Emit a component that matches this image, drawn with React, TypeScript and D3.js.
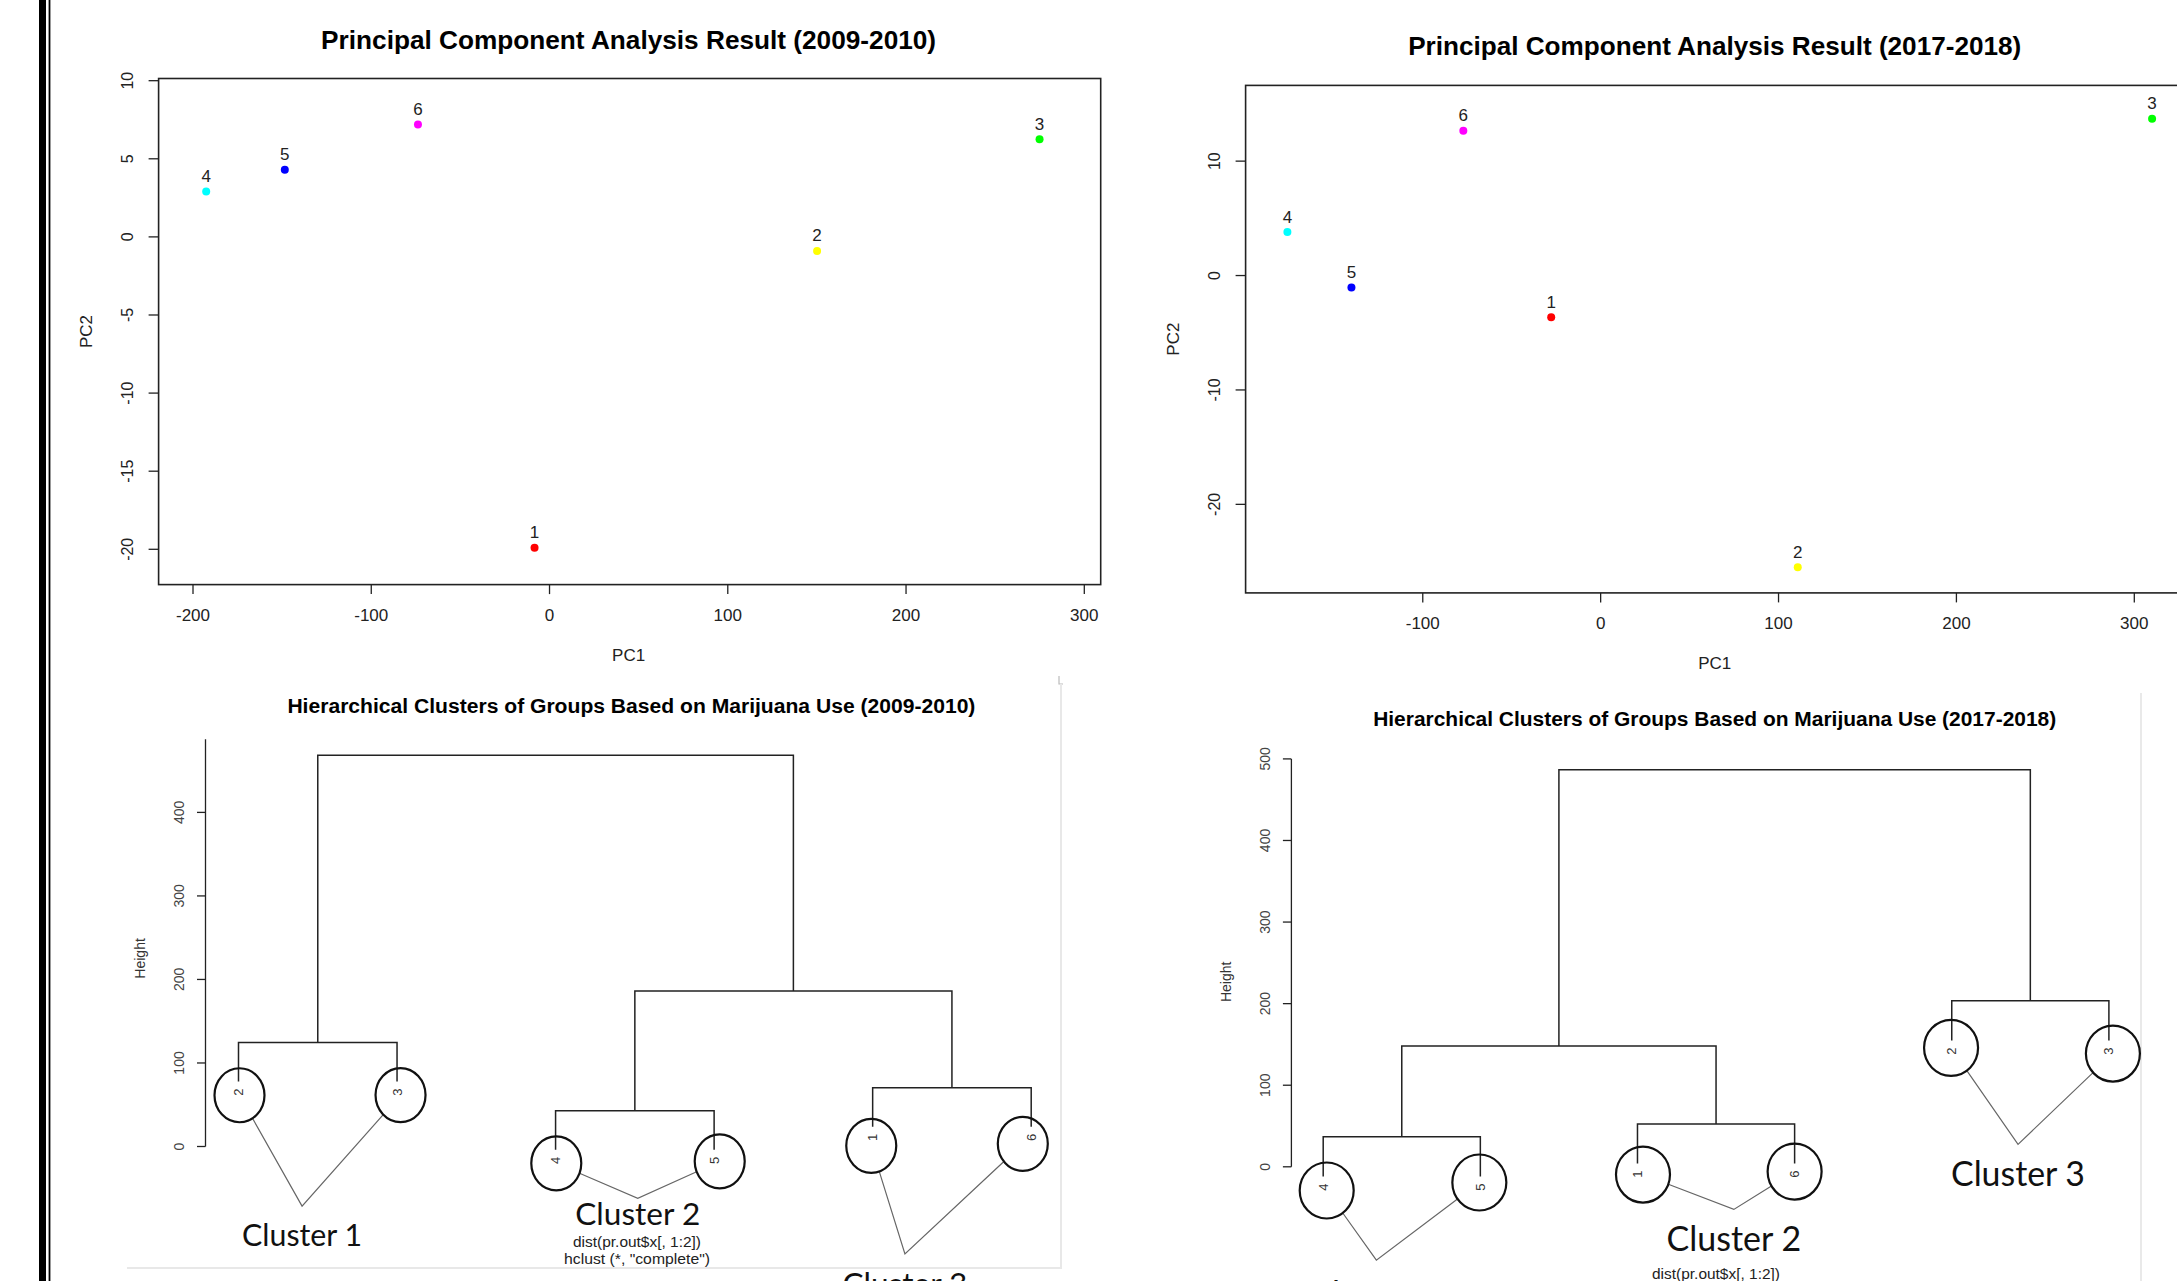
import { useEffect, useRef } from "react";
import * as d3 from "d3";

// group ids and R rainbow(6) colours
const groups = ["1", "2", "3", "4", "5", "6"];
const groupColors = ["#FF0000", "#FFFF00", "#00FF00", "#00FFFF", "#0000FF", "#FF00FF"];

// PCA scores per group, 2009-2010
const pc1_0910 = [-8.4, 150.1, 274.9, -192.6, -148.5, -73.8];
const pc2_0910 = [-19.9, -0.9, 6.25, 2.9, 4.3, 7.2];
const xTicks_0910 = [-200, -100, 0, 100, 200, 300];
const yTicks_0910 = [-20, -15, -10, -5, 0, 5, 10];

// PCA scores per group, 2017-2018
const pc1_1718 = [-27.8, 110.8, 310.0, -176.1, -140.1, -77.2];
const pc2_1718 = [-3.65, -25.5, 13.7, 3.8, -1.05, 12.65];
const xTicks_1718 = [-100, 0, 100, 200, 300];
const yTicks_1718 = [-20, -10, 0, 10];

// hclust results (R merge convention: negative = single group, positive = earlier merge)
const merge_0910 = [[-4, -5], [-1, -6], [-2, -3], [1, 2], [3, 4]];
const height_0910 = [42.9, 70.4, 124.6, 186.2, 468.5];
const order_0910 = ["2", "3", "4", "5", "1", "6"];
const heightTicks_0910 = [0, 100, 200, 300, 400];

const merge_1718 = [[-4, -5], [-1, -6], [1, 2], [-2, -3], [3, 4]];
const height_1718 = [36.8, 52.6, 148.2, 203.4, 486.6];
const order_1718 = ["4", "5", "1", "6", "2", "3"];
const heightTicks_1718 = [0, 100, 200, 300, 400, 500];

const clusterNames = ["Cluster 1", "Cluster 2", "Cluster 3"];
const clusterPairs_0910 = [["2", "3"], ["4", "5"], ["1", "6"]];
const clusterPairs_1718 = [["4", "5"], ["1", "6"], ["2", "3"]];

const SANS = "'Liberation Sans', Arial, sans-serif";
const HAND = "Lato, 'Open Sans', sans-serif";

const pcaPanels = [
  {
    title: "Principal Component Analysis Result (2009-2010)", titleX: 628.6, titleY: 49, titleW: 615,
    pc1: pc1_0910, pc2: pc2_0910, xTicks: xTicks_0910, yTicks: yTicks_0910,
    xDomain: [-219.3, 309.2], yDomain: [-22.26, 10.14],
    left: 158.6, xEnd: 1100.7, boxRight: 1100.7, top: 78.5, bottom: 584.6,
    yLabelX: 86, xLabelX: 628.6, xLabelY: 661,
  },
  {
    title: "Principal Component Analysis Result (2017-2018)", titleX: 1714.7, titleY: 55, titleW: 613,
    pc1: pc1_1718, pc2: pc2_1718, xTicks: xTicks_1718, yTicks: yTicks_1718,
    xDomain: [-199.6, 300], yDomain: [-27.74, 16.62],
    left: 1245.6, xEnd: 2134.3, boxRight: 2220, top: 85.4, bottom: 592.9,
    yLabelX: 1173.5, xLabelX: 1714.7, xLabelY: 668.5,
  },
];

const dendroPanels = [
  {
    title: "Hierarchical Clusters of Groups Based on Marijuana Use (2009-2010)", titleX: 631.4, titleY: 713, titleW: 688,
    merges: merge_0910, heights: height_0910, order: order_0910, ticks: heightTicks_0910, pairs: clusterPairs_0910,
    xFirst: 238.5, xLast: 1031.2, axisX: 205.5, y0: 1146.5, yTop: 812.4, tickTop: 400, axisLineTop: 487.5,
    heightX: 140, heightY: 958.4, subX: 637, subY: 1247, showHclust: true,
    circleDx: [1, 3.5, 0.7, 5.6, -1.4, -8.4], circleDy: [13.7, 13.5, 13.5, 11.5, 19, 17], rx: 25, ry: 27,
    vertexDx: [-15.7, 2.9, -47], vertexDy: [111, 36, 109], labelDy: [29, 15.6, 30], labelSize: 31, labelW: [120, 125, 125],
  },
  {
    title: "Hierarchical Clusters of Groups Based on Marijuana Use (2017-2018)", titleX: 1714.7, titleY: 726, titleW: 683,
    merges: merge_1718, heights: height_1718, order: order_1718, ticks: heightTicks_1718, pairs: clusterPairs_1718,
    xFirst: 1323.2, xLast: 2108.9, axisX: 1291.4, y0: 1166.8, yTop: 758.9, tickTop: 500, axisLineTop: 500,
    heightX: 1225.7, heightY: 981.8, subX: 1716, subY: 1279, showHclust: false,
    circleDx: [3.5, -1, 5.5, 0, -0.7, 4], circleDy: [14, 6, 11, 8, 7.3, 13], rx: 27, ry: 28,
    vertexDx: [-25.4, 17.8, -12.3], vertexDy: [73.7, 36.3, 93.7], labelDy: [34, 29.3, 30], labelSize: 34, labelW: [134, 134.6, 134],
  },
];

function drawPca(root: any, p: any) {
  const g = root.append("g").attr("font-family", SANS);
  const x = d3.scaleLinear().domain(p.xDomain).range([p.left, p.xEnd]);
  const y = d3.scaleLinear().domain(p.yDomain).range([p.bottom, p.top]);

  g.append("rect")
    .attr("x", p.left).attr("y", p.top)
    .attr("width", p.boxRight - p.left).attr("height", p.bottom - p.top)
    .attr("fill", "none").attr("stroke", "#222").attr("stroke-width", 1.6);

  const xt = g.selectAll(".xt").data(p.xTicks).enter().append("g")
    .attr("transform", (d: number) => `translate(${x(d)},${p.bottom})`);
  xt.append("line").attr("y2", 9.5).attr("stroke", "#222").attr("stroke-width", 1.3);
  xt.append("text").attr("y", 36).attr("text-anchor", "middle").attr("font-size", 17).attr("fill", "#222")
    .text((d: number) => String(d));

  const yt = g.selectAll(".yt").data(p.yTicks).enter().append("g")
    .attr("transform", (d: number) => `translate(${p.left},${y(d)})`);
  yt.append("line").attr("x2", -10).attr("stroke", "#222").attr("stroke-width", 1.3);
  yt.append("text").attr("transform", "translate(-31,0) rotate(-90)").attr("dy", "0.35em")
    .attr("text-anchor", "middle").attr("font-size", 16).attr("fill", "#222")
    .text((d: number) => String(d));

  const pts = groups.map((k, i) => ({ k, c: groupColors[i], x: p.pc1[i], y: p.pc2[i] }));
  g.selectAll(".pt").data(pts).enter().append("circle")
    .attr("cx", (d: any) => x(d.x)).attr("cy", (d: any) => y(d.y)).attr("r", 4)
    .attr("fill", (d: any) => d.c);
  g.selectAll(".pl").data(pts).enter().append("text")
    .attr("x", (d: any) => x(d.x)).attr("y", (d: any) => y(d.y) - 9.5)
    .attr("text-anchor", "middle").attr("font-size", 17).attr("fill", "#222")
    .text((d: any) => d.k);

  g.append("text").attr("x", p.titleX).attr("y", p.titleY).attr("text-anchor", "middle")
    .attr("font-size", 26).attr("font-weight", "bold").attr("fill", "#000")
    .attr("textLength", p.titleW).attr("lengthAdjust", "spacingAndGlyphs").text(p.title);
  g.append("text").attr("x", p.xLabelX).attr("y", p.xLabelY)
    .attr("text-anchor", "middle").attr("font-size", 17).attr("fill", "#222").text("PC1");
  g.append("text").attr("transform", `translate(${p.yLabelX},${(p.top + p.bottom) / 2}) rotate(-90)`)
    .attr("dy", "0.35em").attr("text-anchor", "middle").attr("font-size", 17).attr("fill", "#222").text("PC2");
}

function drawDendro(root: any, d: any) {
  const g = root.append("g").attr("font-family", SANS);
  const x = d3.scalePoint<string>().domain(d.order).range([d.xFirst, d.xLast]);
  const y = d3.scaleLinear().domain([0, d.tickTop]).range([d.y0, d.yTop]);
  const hang = 0.1 * (d3.max(d.heights as number[]) as number);

  const nodes: { x: number; h: number }[] = [];
  const leafEnd: Record<string, number> = {};
  (d.merges as number[][]).forEach(([a, b], i) => {
    const h = d.heights[i];
    const pos = (k: number) => {
      if (k < 0) {
        const lab = groups[-k - 1];
        leafEnd[lab] = y(h - hang);
        return { x: x(lab) as number, y: y(h - hang) };
      }
      return { x: nodes[k - 1].x, y: y(nodes[k - 1].h) };
    };
    const pa = pos(a), pb = pos(b);
    g.append("path").attr("d", `M${pa.x},${pa.y}V${y(h)}H${pb.x}V${pb.y}`)
      .attr("fill", "none").attr("stroke", "#222").attr("stroke-width", 1.5);
    nodes.push({ x: (pa.x + pb.x) / 2, h });
  });

  // leaf labels
  g.selectAll(".leaf").data(d.order).enter().append("text")
    .attr("transform", (k: string) => `translate(${x(k)},${leafEnd[k] + 7}) rotate(-90)`)
    .attr("dy", "0.35em").attr("text-anchor", "end").attr("font-size", 13).attr("fill", "#333")
    .text((k: string) => k);

  // height axis
  g.append("line").attr("x1", d.axisX).attr("x2", d.axisX).attr("y1", y(0)).attr("y2", y(d.axisLineTop))
    .attr("stroke", "#222").attr("stroke-width", 1.3);
  const yt = g.selectAll(".yt").data(d.ticks).enter().append("g")
    .attr("transform", (t: number) => `translate(${d.axisX},${y(t)})`);
  yt.append("line").attr("x2", -8.5).attr("stroke", "#222").attr("stroke-width", 1.3);
  yt.append("text").attr("transform", "translate(-26.5,0) rotate(-90)").attr("dy", "0.35em")
    .attr("text-anchor", "middle").attr("font-size", 14).attr("fill", "#444").text((t: number) => String(t));
  g.append("text").attr("transform", `translate(${d.heightX},${d.heightY}) rotate(-90)`)
    .attr("dy", "0.35em").attr("text-anchor", "middle").attr("font-size", 14).attr("fill", "#333").text("Height");

  g.append("text").attr("x", d.titleX).attr("y", d.titleY).attr("text-anchor", "middle")
    .attr("font-size", 20).attr("font-weight", "bold").attr("fill", "#000")
    .attr("textLength", d.titleW).attr("lengthAdjust", "spacingAndGlyphs").text(d.title);
  g.append("text").attr("x", d.subX).attr("y", d.subY).attr("text-anchor", "middle")
    .attr("font-size", 15).attr("fill", "#222").attr("textLength", 128).attr("lengthAdjust", "spacingAndGlyphs")
    .text("dist(pr.out$x[, 1:2])");
  if (d.showHclust) {
    g.append("text").attr("x", d.subX).attr("y", d.subY + 16.5).attr("text-anchor", "middle")
      .attr("font-size", 15).attr("fill", "#222").attr("textLength", 146).attr("lengthAdjust", "spacingAndGlyphs")
      .text("hclust (*, \"complete\")");
  }

  // hand-drawn cluster annotations
  const circle = (k: string) => {
    const i = d.order.indexOf(k);
    return { cx: (x(k) as number) + d.circleDx[i], cy: leafEnd[k] + d.circleDy[i] };
  };
  (d.pairs as string[][]).forEach((pair, c) => {
    const cs = pair.map(circle);
    const vx = ((x(pair[0]) as number) + (x(pair[1]) as number)) / 2 + d.vertexDx[c];
    const vy = (cs[0].cy + cs[1].cy) / 2 + d.vertexDy[c];
    const ends = cs.map(({ cx, cy }) => {
      const dx = vx - cx, dy = vy - cy;
      const t = 1 / Math.sqrt((dx / d.rx) ** 2 + (dy / d.ry) ** 2);
      return [cx + dx * t, cy + dy * t];
    });
    g.append("path").attr("d", `M${ends[0][0]},${ends[0][1]}L${vx},${vy}L${ends[1][0]},${ends[1][1]}`)
      .attr("fill", "none").attr("stroke", "#666").attr("stroke-width", 1.2);
    cs.forEach(({ cx, cy }) => {
      g.append("ellipse").attr("cx", cx).attr("cy", cy).attr("rx", d.rx).attr("ry", d.ry)
        .attr("fill", "none").attr("stroke", "#111").attr("stroke-width", 2.2);
    });
    g.append("text").attr("x", vx).attr("y", vy + d.labelDy[c]).attr("dy", "0.35em")
      .attr("text-anchor", "middle").attr("font-family", HAND).attr("font-size", d.labelSize)
      .attr("fill", "#111").attr("textLength", d.labelW[c]).attr("lengthAdjust", "spacingAndGlyphs")
      .text(clusterNames[c]);
  });
}

export default function App() {
  const ref = useRef<SVGSVGElement>(null);

  useEffect(() => {
    if (!ref.current) return;
    const svg = d3.select(ref.current);
    svg.selectAll("*").remove();

    svg.append("rect").attr("width", 2177).attr("height", 1281).attr("fill", "#fff");

    // faint borders of the pasted dendrogram images
    svg.append("path").attr("d", "M1059,676V684H1063").attr("fill", "none").attr("stroke", "#bbb").attr("stroke-width", 1.2);
    svg.append("path").attr("d", "M1061,684V1268H127").attr("fill", "none").attr("stroke", "#e8e8e8").attr("stroke-width", 2);
    svg.append("line").attr("x1", 2141).attr("x2", 2141).attr("y1", 693).attr("y2", 1281)
      .attr("stroke", "#e2e2e2").attr("stroke-width", 1.5);

    pcaPanels.forEach(p => drawPca(svg, p));
    dendroPanels.forEach(d => drawDendro(svg, d));

    // page margin bars
    svg.append("rect").attr("x", 39).attr("y", 0).attr("width", 7).attr("height", 1281).attr("fill", "#000");
    svg.append("rect").attr("x", 48.6).attr("y", 0).attr("width", 1.8).attr("height", 1281).attr("fill", "#000");
  }, []);

  return (
    <svg ref={ref} width={2177} height={1281}
      style={{ position: "absolute", left: 0, top: 0, display: "block" }}></svg>
  );
}
